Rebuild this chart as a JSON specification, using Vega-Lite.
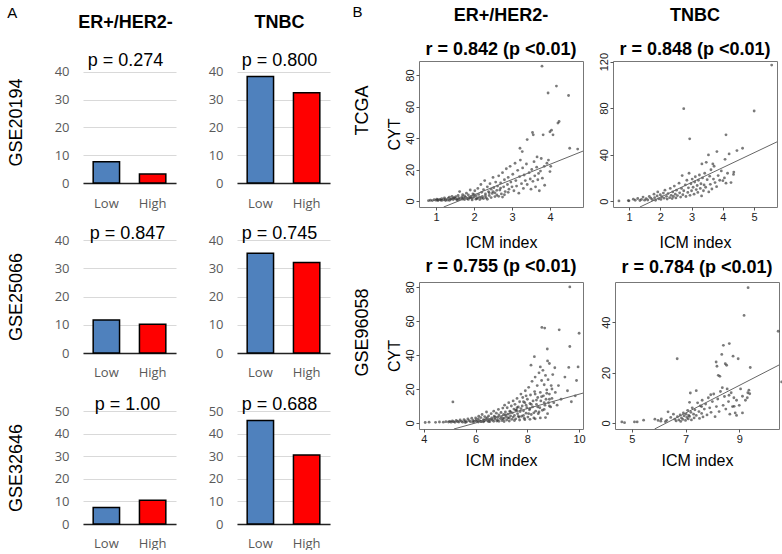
{
 "$schema": "https://vega.github.io/schema/vega-lite/v6.json",
 "padding": {"left": 7, "top": 4, "right": 0, "bottom": 0},
 "config": {"view": {"stroke": null}, "font": "Liberation Sans", "title": {"color": "#000"}, "axis": {"labelFont": "Liberation Sans", "titleFont": "Liberation Sans"}},
 "datasets": {
  "bars": [
   {"panel": "GSE20194", "subtype": "ER", "group": "Low", "value": 7.7},
   {"panel": "GSE20194", "subtype": "ER", "group": "High", "value": 3.2},
   {"panel": "GSE20194", "subtype": "TN", "group": "Low", "value": 38.4},
   {"panel": "GSE20194", "subtype": "TN", "group": "High", "value": 32.5},
   {"panel": "GSE25066", "subtype": "ER", "group": "Low", "value": 11.7},
   {"panel": "GSE25066", "subtype": "ER", "group": "High", "value": 10.2},
   {"panel": "GSE25066", "subtype": "TN", "group": "Low", "value": 35.3},
   {"panel": "GSE25066", "subtype": "TN", "group": "High", "value": 32.0},
   {"panel": "GSE32646", "subtype": "ER", "group": "Low", "value": 7.3},
   {"panel": "GSE32646", "subtype": "ER", "group": "High", "value": 10.5},
   {"panel": "GSE32646", "subtype": "TN", "group": "Low", "value": 45.8},
   {"panel": "GSE32646", "subtype": "TN", "group": "High", "value": 30.5}
  ],
  "lines": [
   {"panel": "tl", "x": 1.2, "y": -3.8}, {"panel": "tl", "x": 4.87, "y": 31.7},
   {"panel": "tr", "x": 1.35, "y": -5}, {"panel": "tr", "x": 5.73, "y": 51},
   {"panel": "bl", "x": 5.16, "y": -3.5}, {"panel": "bl", "x": 10.15, "y": 17.6},
   {"panel": "br", "x": 5.85, "y": -2.4}, {"panel": "br", "x": 10.48, "y": 23}
  ],
  "tl": [
   {"x":0.8,"y":0.2},{"x":0.85,"y":0.5},{"x":0.9,"y":0.3},{"x":0.95,"y":0.8},{"x":1.0,"y":0.5},{"x":1.02,"y":1.2},{"x":1.05,"y":0.3},{"x":1.1,"y":1.0},{"x":1.12,"y":0.6},{"x":1.15,"y":1.5},{"x":1.2,"y":0.8},{"x":1.22,"y":2.0},{"x":1.25,"y":1.1},{"x":1.3,"y":0.6},{"x":1.32,"y":1.8},{"x":1.35,"y":2.5},{"x":1.38,"y":1.0},{"x":1.4,"y":1.4},{"x":1.42,"y":3.0},{"x":1.45,"y":0.9},{"x":1.48,"y":2.2},{"x":1.5,"y":1.6},
   {"x":1.52,"y":2.8},{"x":1.55,"y":1.2},{"x":1.58,"y":3.5},{"x":1.6,"y":2.0},{"x":1.62,"y":6.0},{"x":1.65,"y":1.5},{"x":1.68,"y":2.6},{"x":1.7,"y":4.0},{"x":1.72,"y":1.8},{"x":1.75,"y":3.2},{"x":1.78,"y":2.4},{"x":1.8,"y":5.0},{"x":1.82,"y":1.4},{"x":1.85,"y":3.8},{"x":1.88,"y":2.2},{"x":1.9,"y":7.0},{"x":1.92,"y":3.0},{"x":1.95,"y":1.8},{"x":1.97,"y":4.5},{"x":2.0,"y":2.6},
   {"x":2.02,"y":6.5},{"x":2.05,"y":3.4},{"x":2.07,"y":1.5},{"x":2.1,"y":8.0},{"x":2.12,"y":4.2},{"x":2.15,"y":2.5},{"x":2.18,"y":10.5},{"x":2.2,"y":5.5},{"x":2.22,"y":3.0},{"x":2.25,"y":7.2},{"x":2.28,"y":13.0},{"x":2.3,"y":4.5},{"x":2.32,"y":2.0},{"x":2.35,"y":9.0},{"x":2.38,"y":6.0},{"x":2.4,"y":3.5},{"x":2.42,"y":11.0},{"x":2.45,"y":7.5},{"x":2.48,"y":4.8},{"x":2.5,"y":15.0},
   {"x":2.52,"y":8.5},{"x":2.55,"y":5.2},{"x":2.57,"y":12.0},{"x":2.6,"y":3.8},{"x":2.62,"y":9.5},{"x":2.65,"y":16.0},{"x":2.68,"y":7.0},{"x":2.7,"y":11.5},{"x":2.72,"y":4.5},{"x":2.75,"y":18.0},{"x":2.78,"y":9.0},{"x":2.8,"y":13.5},{"x":2.82,"y":6.0},{"x":2.85,"y":20.5},{"x":2.88,"y":10.5},{"x":2.9,"y":15.0},{"x":2.92,"y":7.5},{"x":2.95,"y":22.0},{"x":2.97,"y":12.0},{"x":3.0,"y":9.0},
   {"x":3.02,"y":17.0},{"x":3.05,"y":6.5},{"x":3.08,"y":24.0},{"x":3.1,"y":13.0},{"x":3.12,"y":9.5},{"x":3.15,"y":19.5},{"x":3.18,"y":5.0},{"x":3.2,"y":15.5},{"x":3.22,"y":26.0},{"x":3.25,"y":11.0},{"x":3.28,"y":21.0},{"x":3.3,"y":8.0},{"x":3.32,"y":16.5},{"x":3.35,"y":13.0},{"x":3.38,"y":23.5},{"x":3.4,"y":10.5},{"x":3.45,"y":18.0},{"x":3.48,"y":14.0},{"x":3.5,"y":7.5},
   {"x":3.52,"y":20.0},{"x":3.55,"y":12.5},{"x":3.58,"y":25.0},{"x":3.6,"y":16.0},{"x":3.62,"y":9.0},{"x":3.65,"y":21.5},{"x":3.68,"y":13.5},{"x":3.7,"y":17.5},{"x":3.72,"y":6.5},{"x":3.75,"y":19.0},{"x":3.8,"y":14.5},{"x":3.85,"y":22.0},
   {"x":1.6,"y":0.8},{"x":1.75,"y":0.9},{"x":1.85,"y":1.0},{"x":1.95,"y":0.7},{"x":2.05,"y":1.2},{"x":2.15,"y":0.9},{"x":2.25,"y":1.6},{"x":2.35,"y":1.1},{"x":2.45,"y":2.2},{"x":2.55,"y":2.8},{"x":2.65,"y":3.0},{"x":2.75,"y":2.5},{"x":2.1,"y":2.0},{"x":2.2,"y":1.8},{"x":2.3,"y":3.2},{"x":2.4,"y":5.2},{"x":2.5,"y":6.0},{"x":2.6,"y":6.8},{"x":2.7,"y":8.2},{"x":2.8,"y":4.0},{"x":2.9,"y":5.5},{"x":1.7,"y":1.2},{"x":1.9,"y":2.0},{"x":2.0,"y":4.0},{"x":1.55,"y":0.6},{"x":1.45,"y":1.8},{"x":1.35,"y":0.4},{"x":1.25,"y":0.3},{"x":1.15,"y":0.4},{"x":1.05,"y":0.8},
   {"x":3.79,"y":85.6},{"x":4.17,"y":73},{"x":3.95,"y":68.6},{"x":4.49,"y":67},{"x":4.24,"y":50.5},{"x":4.21,"y":49.5},{"x":4.04,"y":45},{"x":4.0,"y":44},{"x":3.54,"y":43.5},{"x":3.82,"y":42},{"x":4.08,"y":42},{"x":3.56,"y":42},{"x":3.4,"y":39},{"x":3.21,"y":33.5},{"x":3.27,"y":31.4},{"x":4.52,"y":33.5},{"x":4.73,"y":33},{"x":3.96,"y":26},{"x":3.92,"y":24},{"x":4.02,"y":22},{"x":4.0,"y":18.7},{"x":3.66,"y":28},{"x":3.77,"y":27},{"x":3.86,"y":10}
  ],
  "tr": [
   {"x":0.68,"y":0.2},{"x":0.98,"y":0.5},{"x":1.0,"y":0.3},{"x":1.14,"y":1.7},{"x":1.2,"y":0.8},{"x":1.28,"y":2.3},{"x":1.35,"y":0.6},{"x":1.4,"y":1.5},{"x":1.45,"y":3.5},{"x":1.5,"y":0.9},{"x":1.55,"y":2.2},{"x":1.6,"y":1.0},{"x":1.65,"y":4.0},{"x":1.7,"y":2.5},{"x":1.75,"y":1.2},{"x":1.8,"y":6.0},{"x":1.82,"y":3.0},{"x":1.85,"y":0.8},{"x":1.9,"y":4.5},{"x":1.92,"y":8.0},{"x":1.95,"y":2.0},{"x":2.0,"y":5.5},{"x":2.02,"y":1.5},{"x":2.05,"y":3.8},{"x":2.1,"y":7.0},{"x":2.12,"y":2.6},{"x":2.15,"y":9.5},{"x":2.2,"y":4.2},{"x":2.22,"y":1.8},{"x":2.25,"y":6.5},{"x":2.3,"y":3.0},{"x":2.32,"y":11.0},{"x":2.35,"y":5.0},{"x":2.38,"y":2.2},{"x":2.4,"y":8.0},{"x":2.42,"y":4.0},{"x":2.45,"y":13.0},{"x":2.48,"y":6.0},{"x":2.5,"y":2.8},{"x":2.52,"y":9.5},{"x":2.55,"y":4.8},{"x":2.6,"y":15.5},{"x":2.62,"y":7.2},{"x":2.65,"y":3.5},{"x":2.68,"y":11.0},{"x":2.7,"y":22.0},{"x":2.72,"y":5.5},{"x":2.75,"y":9.0},{"x":2.8,"y":14.0},{"x":2.82,"y":4.0},{"x":2.85,"y":18.0},{"x":2.88,"y":7.5},{"x":2.9,"y":11.5},{"x":2.92,"y":24.0},{"x":2.95,"y":5.0},{"x":2.98,"y":15.0},{"x":3.0,"y":9.0},{"x":3.02,"y":19.0},{"x":3.05,"y":12.0},{"x":3.08,"y":6.0},{"x":3.1,"y":16.5},{"x":3.12,"y":21.0},{"x":3.15,"y":10.0},{"x":3.18,"y":13.5},{"x":3.2,"y":7.5},{"x":3.22,"y":18.0},{"x":3.25,"y":22.5},{"x":3.28,"y":11.0},{"x":3.3,"y":15.0},{"x":3.32,"y":4.5},{"x":3.35,"y":20.0},{"x":3.38,"y":9.0},{"x":3.4,"y":14.0},{"x":3.42,"y":24.0},{"x":3.45,"y":12.0},{"x":3.5,"y":18.5},{"x":3.55,"y":8.0},{"x":3.58,"y":21.5},{"x":3.6,"y":14.5},{"x":3.62,"y":27.0},{"x":3.65,"y":10.5},{"x":3.7,"y":19.0},{"x":3.72,"y":30.0},{"x":3.75,"y":16.0},{"x":3.8,"y":12.5},{"x":3.85,"y":22.0},{"x":3.9,"y":18.0},{"x":3.95,"y":26.0},{"x":4.05,"y":20.0},{"x":4.1,"y":15.5},{"x":4.15,"y":24.0},{"x":4.35,"y":25.0},
   {"x":5.56,"y":117},{"x":5.0,"y":77.5},{"x":2.75,"y":79.5},{"x":2.94,"y":53.6},{"x":4.1,"y":57},{"x":4.63,"y":45.5},{"x":4.45,"y":43.5},{"x":3.81,"y":42.6},{"x":4.2,"y":40.6},{"x":3.54,"y":39.8},{"x":4.34,"y":23},{"x":3.68,"y":32},{"x":3.33,"y":32},{"x":3.47,"y":33.4},{"x":4.07,"y":36},{"x":4.26,"y":16},{"x":4.0,"y":17.6}
  ],
  "bl": [
   {"x":4.05,"y":0.3},{"x":4.2,"y":0.5},{"x":4.45,"y":0.4},{"x":4.6,"y":0.6},{"x":4.75,"y":0.5},{"x":4.85,"y":0.8},{"x":4.95,"y":0.6},{"x":5.0,"y":1.0},
   {"x":5.05,"y":0.5},{"x":5.1,"y":1.2},{"x":5.15,"y":0.8},{"x":5.2,"y":0.4},{"x":5.25,"y":1.5},{"x":5.3,"y":0.9},{"x":5.35,"y":0.6},{"x":5.4,"y":1.8},{"x":5.45,"y":1.0},{"x":5.5,"y":0.5},{"x":5.55,"y":2.0},{"x":5.6,"y":1.2},{"x":5.65,"y":0.7},{"x":5.7,"y":2.4},{"x":5.75,"y":1.4},{"x":5.8,"y":0.8},{"x":5.85,"y":2.8},{"x":5.9,"y":1.6},{"x":5.95,"y":1.0},{"x":6.0,"y":3.0},
   {"x":6.02,"y":1.8},{"x":6.05,"y":0.9},{"x":6.1,"y":2.5},{"x":6.12,"y":4.0},{"x":6.15,"y":1.4},{"x":6.2,"y":3.2},{"x":6.22,"y":0.8},{"x":6.25,"y":5.0},{"x":6.3,"y":2.0},{"x":6.32,"y":1.2},{"x":6.35,"y":3.8},{"x":6.4,"y":2.6},{"x":6.42,"y":6.5},{"x":6.45,"y":1.5},{"x":6.5,"y":4.2},{"x":6.52,"y":2.2},{"x":6.55,"y":0.9},{"x":6.6,"y":5.5},{"x":6.62,"y":3.0},{"x":6.65,"y":1.8},{"x":6.7,"y":7.0},{"x":6.72,"y":4.0},{"x":6.75,"y":2.4},{"x":6.8,"y":5.8},{"x":6.82,"y":1.2},{"x":6.85,"y":3.4},{"x":6.88,"y":8.0},{"x":6.9,"y":4.8},{"x":6.95,"y":2.6},{"x":6.98,"y":6.2},
   {"x":7.0,"y":3.5},{"x":7.02,"y":1.5},{"x":7.05,"y":8.8},{"x":7.08,"y":5.0},{"x":7.1,"y":2.8},{"x":7.12,"y":10.5},{"x":7.15,"y":6.5},{"x":7.18,"y":3.8},{"x":7.2,"y":1.8},{"x":7.22,"y":9.0},{"x":7.25,"y":5.2},{"x":7.28,"y":12.0},{"x":7.3,"y":3.0},{"x":7.32,"y":7.0},{"x":7.35,"y":4.2},{"x":7.38,"y":10.0},{"x":7.4,"y":2.2},{"x":7.42,"y":6.0},{"x":7.45,"y":13.0},{"x":7.48,"y":8.2},
   {"x":7.5,"y":4.5},{"x":7.52,"y":11.0},{"x":7.55,"y":2.5},{"x":7.58,"y":7.5},{"x":7.6,"y":14.5},{"x":7.62,"y":5.5},{"x":7.65,"y":9.5},{"x":7.68,"y":3.5},{"x":7.7,"y":12.5},{"x":7.72,"y":6.8},{"x":7.75,"y":17.0},{"x":7.78,"y":4.0},{"x":7.8,"y":10.0},{"x":7.82,"y":15.0},{"x":7.85,"y":7.2},{"x":7.88,"y":2.8},{"x":7.9,"y":12.0},{"x":7.92,"y":19.0},{"x":7.95,"y":5.8},{"x":7.98,"y":9.0},
   {"x":8.0,"y":14.0},{"x":8.02,"y":3.5},{"x":8.05,"y":21.0},{"x":8.08,"y":7.8},{"x":8.1,"y":11.5},{"x":8.12,"y":16.5},{"x":8.15,"y":5.0},{"x":8.18,"y":24.5},{"x":8.2,"y":9.5},{"x":8.22,"y":13.0},{"x":8.25,"y":3.0},{"x":8.28,"y":18.5},{"x":8.3,"y":27.0},{"x":8.32,"y":7.0},{"x":8.35,"y":11.0},{"x":8.38,"y":22.0},{"x":8.4,"y":15.0},{"x":8.42,"y":5.5},{"x":8.45,"y":29.5},{"x":8.48,"y":9.0},
   {"x":8.5,"y":18.0},{"x":8.52,"y":13.0},{"x":8.55,"y":25.0},{"x":8.58,"y":7.5},{"x":8.6,"y":31.0},{"x":8.62,"y":16.0},{"x":8.65,"y":22.5},{"x":8.68,"y":10.5},{"x":8.7,"y":28.0},{"x":8.72,"y":14.0},{"x":8.75,"y":19.5},{"x":8.78,"y":5.5},{"x":8.8,"y":25.5},{"x":8.82,"y":12.0},{"x":8.85,"y":17.0},{"x":8.9,"y":9.5},{"x":8.92,"y":22.0},{"x":8.95,"y":14.5},{"x":8.98,"y":28.5},
   {"x":9.02,"y":12.0},{"x":9.08,"y":18.0},{"x":9.15,"y":10.5},{"x":9.2,"y":22.0},{"x":9.3,"y":14.0},{"x":9.45,"y":27.0},{"x":9.55,"y":19.0},{"x":9.7,"y":12.5},{"x":9.85,"y":16.0},{"x":9.9,"y":25.0},
   {"x":5.6,"y":0.3},{"x":5.9,"y":0.5},{"x":6.1,"y":0.6},{"x":6.3,"y":0.7},{"x":6.5,"y":0.8},{"x":6.7,"y":1.0},{"x":6.9,"y":1.0},{"x":7.1,"y":0.9},{"x":7.3,"y":1.2},{"x":7.5,"y":1.5},{"x":7.7,"y":1.8},{"x":7.9,"y":2.0},{"x":8.1,"y":2.2},{"x":8.3,"y":2.5},{"x":8.5,"y":3.0},{"x":8.7,"y":3.2},{"x":6.35,"y":1.5},{"x":6.6,"y":2.2},{"x":6.85,"y":1.8},{"x":7.05,"y":2.5},{"x":7.25,"y":3.0},{"x":7.45,"y":3.5},{"x":7.65,"y":4.0},{"x":7.85,"y":4.5},{"x":8.05,"y":5.5},{"x":8.25,"y":6.0},{"x":8.45,"y":6.5},{"x":8.65,"y":8.0},{"x":8.85,"y":10.0},{"x":7.55,"y":7.5},{"x":7.75,"y":8.5},{"x":7.95,"y":10.5},{"x":8.15,"y":11.0},{"x":8.35,"y":13.5},{"x":8.55,"y":15.5},{"x":8.75,"y":17.5},{"x":8.95,"y":20.0},{"x":6.2,"y":1.0},{"x":6.45,"y":3.2},{"x":6.75,"y":3.4},{"x":7.15,"y":4.8},{"x":7.35,"y":6.5},{"x":7.6,"y":9.0},{"x":7.85,"y":12.5},{"x":8.1,"y":8.5},{"x":8.4,"y":9.5},{"x":8.65,"y":12.0},{"x":8.85,"y":14.0},{"x":8.3,"y":17.0},{"x":7.95,"y":16.0},
   {"x":9.64,"y":80},{"x":10.0,"y":52.8},{"x":9.23,"y":54.8},{"x":8.56,"y":56.2},{"x":8.67,"y":55.8},{"x":9.64,"y":45},{"x":8.77,"y":43.5},{"x":8.27,"y":39},{"x":8.78,"y":36.5},{"x":8.85,"y":35},{"x":8.5,"y":33},{"x":9.06,"y":32.5},{"x":9.96,"y":33},{"x":9.6,"y":32.7},{"x":8.14,"y":34},{"x":5.12,"y":12.4}
  ],
  "br": [
   {"x":4.63,"y":0.4},{"x":4.73,"y":0.1},{"x":5.1,"y":0.4},{"x":5.2,"y":0.4},{"x":5.44,"y":1.1},{"x":5.86,"y":1.5},{"x":5.98,"y":1.0},{"x":6.08,"y":0.7},{"x":6.35,"y":4.4},{"x":6.69,"y":25.5},{"x":7.18,"y":11.9},{"x":7.94,"y":11.2},{"x":8.14,"y":24.2},{"x":8.17,"y":22.5},{"x":8.41,"y":30.8},{"x":8.63,"y":31.5},{"x":8.35,"y":27.2},{"x":8.48,"y":23.5},{"x":8.53,"y":22.9},{"x":8.77,"y":26.5},{"x":8.96,"y":25.5},{"x":9.18,"y":42.7},{"x":9.33,"y":53.7},{"x":10.45,"y":36.4},{"x":10.58,"y":16.3},{"x":9.41,"y":22},{"x":9.36,"y":13},{"x":9.12,"y":10.6},{"x":9.23,"y":9.0},{"x":9.39,"y":11.6},{"x":9.12,"y":4.0},{"x":8.9,"y":9},{"x":8.81,"y":6.6},{"x":8.9,"y":3},{"x":8.37,"y":14},{"x":8.22,"y":18.9},{"x":8.28,"y":18.5},
   {"x":6.6,"y":1.5},{"x":6.65,"y":0.8},{"x":6.7,"y":2.5},{"x":6.75,"y":1.2},{"x":6.8,"y":3.2},{"x":6.82,"y":0.6},{"x":6.85,"y":2.0},{"x":6.9,"y":1.4},{"x":6.92,"y":4.0},{"x":6.95,"y":2.8},{"x":7.0,"y":1.0},{"x":7.02,"y":3.5},{"x":7.05,"y":2.2},{"x":7.08,"y":5.0},{"x":7.1,"y":1.6},{"x":7.12,"y":3.0},{"x":7.15,"y":2.6},{"x":7.2,"y":4.2},{"x":7.22,"y":1.2},{"x":7.25,"y":6.0},{"x":7.3,"y":3.5},{"x":7.32,"y":2.0},{"x":7.35,"y":5.2},{"x":7.4,"y":3.0},{"x":7.45,"y":8.0},{"x":7.5,"y":4.5},{"x":7.52,"y":1.8},{"x":7.55,"y":6.8},{"x":7.6,"y":3.8},{"x":7.62,"y":9.0},{"x":7.65,"y":2.4},{"x":7.7,"y":5.5},{"x":7.75,"y":7.5},{"x":7.8,"y":3.2},{"x":7.85,"y":10.0},{"x":7.9,"y":6.0},{"x":7.95,"y":4.2},{"x":8.0,"y":8.5},{"x":8.05,"y":11.5},{"x":8.1,"y":2.5},{"x":8.15,"y":6.5},{"x":8.2,"y":9.5},{"x":8.25,"y":4.5},{"x":8.3,"y":12.5},{"x":8.4,"y":7.0},{"x":8.45,"y":10.5},{"x":8.5,"y":5.5},{"x":8.55,"y":13.5},{"x":8.6,"y":8.5},{"x":8.62,"y":11.0},{"x":8.65,"y":3.5},{"x":8.7,"y":12.0},{"x":8.75,"y":6.5},{"x":8.8,"y":10.0},{"x":8.85,"y":4.0},{"x":9.0,"y":7.0},{"x":9.05,"y":13.5},{"x":9.3,"y":10.0},{"x":9.32,"y":12.0},{"x":6.45,"y":2.2},{"x":6.3,"y":1.0},{"x":6.1,"y":1.6},{"x":6.25,"y":0.5},{"x":6.55,"y":3.5},{"x":7.4,"y":12.8},{"x":7.6,"y":6.5},{"x":7.15,"y":8.2}
  ]
 },
 "spacing": 22,
 "hconcat": [
  {
   "title": {"text": "A", "anchor": "start", "fontSize": 15, "fontWeight": "normal", "offset": -7},
   "spacing": 15,
   "vconcat": [
    {
     "spacing": 32,
     "hconcat": [
      {
       "width": 93, "height": 122,
       "title": {"text": "ER+/HER2-", "subtitle": "p = 0.274", "fontSize": 18, "fontWeight": "bold", "subtitleFont": "Liberation Sans", "subtitleFontSize": 18, "subtitleColor": "#000", "subtitlePadding": 20, "offset": -9, "dx": -4},
       "data": {"name": "bars"},
       "transform": [{"filter": "datum.panel === 'GSE20194' && datum.subtype === 'ER'"}],
       "mark": {"type": "bar", "stroke": "#000", "strokeWidth": 1.5},
       "encoding": {
        "x": {"field": "group", "type": "nominal", "sort": ["Low", "High"], "scale": {"paddingInner": 0.43, "paddingOuter": 0.22}, "axis": {"title": null, "labelAngle": 0, "ticks": false, "domainColor": "#222", "domainWidth": 1.5, "labelFont": "Open Sans", "labelFontSize": 13, "labelColor": "#595959", "labelPadding": 14}},
        "y": {"field": "value", "type": "quantitative", "scale": {"domain": [0, 43.96], "nice": false}, "axis": {"title": "GSE20194", "titleFontSize": 18, "titleFontWeight": "normal", "titleColor": "#000", "titlePadding": 29, "values": [0, 10, 20, 30, 40], "grid": true, "gridColor": "#d9d9d9", "domain": false, "ticks": false, "labelPadding": 14, "labelFont": "Open Sans", "labelFontSize": 13, "labelColor": "#595959"}},
        "color": {"field": "group", "type": "nominal", "scale": {"domain": ["Low", "High"], "range": ["#4F81BD", "#FF0000"]}, "legend": null}
       }
      },
      {
       "width": 93, "height": 122,
       "title": {"text": "TNBC", "subtitle": "p = 0.800", "fontSize": 18, "fontWeight": "bold", "subtitleFont": "Liberation Sans", "subtitleFontSize": 18, "subtitleColor": "#000", "subtitlePadding": 20, "offset": -9, "dx": -4},
       "data": {"name": "bars"},
       "transform": [{"filter": "datum.panel === 'GSE20194' && datum.subtype === 'TN'"}],
       "mark": {"type": "bar", "stroke": "#000", "strokeWidth": 1.5},
       "encoding": {
        "x": {"field": "group", "type": "nominal", "sort": ["Low", "High"], "scale": {"paddingInner": 0.43, "paddingOuter": 0.22}, "axis": {"title": null, "labelAngle": 0, "ticks": false, "domainColor": "#222", "domainWidth": 1.5, "labelFont": "Open Sans", "labelFontSize": 13, "labelColor": "#595959", "labelPadding": 14}},
        "y": {"field": "value", "type": "quantitative", "scale": {"domain": [0, 43.96], "nice": false}, "axis": {"title": null, "values": [0, 10, 20, 30, 40], "grid": true, "gridColor": "#d9d9d9", "domain": false, "ticks": false, "labelPadding": 14, "labelFont": "Open Sans", "labelFontSize": 13, "labelColor": "#595959"}},
        "color": {"field": "group", "type": "nominal", "scale": {"domain": ["Low", "High"], "range": ["#4F81BD", "#FF0000"]}, "legend": null}
       }
      }
     ]
    },
    {
     "spacing": 17,
     "vconcat": [
      {
       "spacing": 32,
       "hconcat": [
        {
         "width": 93, "height": 113,
         "title": {"text": "p = 0.847", "fontSize": 18, "fontWeight": "normal", "offset": -9, "dx": -2},
         "data": {"name": "bars"},
         "transform": [{"filter": "datum.panel === 'GSE25066' && datum.subtype === 'ER'"}],
         "mark": {"type": "bar", "stroke": "#000", "strokeWidth": 1.5},
         "encoding": {
          "x": {"field": "group", "type": "nominal", "sort": ["Low", "High"], "scale": {"paddingInner": 0.43, "paddingOuter": 0.22}, "axis": {"title": null, "labelAngle": 0, "ticks": false, "domainColor": "#222", "domainWidth": 1.5, "labelFont": "Open Sans", "labelFontSize": 13, "labelColor": "#595959", "labelPadding": 13}},
          "y": {"field": "value", "type": "quantitative", "scale": {"domain": [0, 40], "nice": false}, "axis": {"title": "GSE25066", "titleFontSize": 18, "titleFontWeight": "normal", "titleColor": "#000", "titlePadding": 29, "values": [0, 10, 20, 30, 40], "grid": true, "gridColor": "#d9d9d9", "domain": false, "ticks": false, "labelPadding": 14, "labelFont": "Open Sans", "labelFontSize": 13, "labelColor": "#595959"}},
          "color": {"field": "group", "type": "nominal", "scale": {"domain": ["Low", "High"], "range": ["#4F81BD", "#FF0000"]}, "legend": null}
         }
        },
        {
         "width": 93, "height": 113,
         "title": {"text": "p = 0.745", "fontSize": 18, "fontWeight": "normal", "offset": -9, "dx": -4},
         "data": {"name": "bars"},
         "transform": [{"filter": "datum.panel === 'GSE25066' && datum.subtype === 'TN'"}],
         "mark": {"type": "bar", "stroke": "#000", "strokeWidth": 1.5},
         "encoding": {
          "x": {"field": "group", "type": "nominal", "sort": ["Low", "High"], "scale": {"paddingInner": 0.43, "paddingOuter": 0.22}, "axis": {"title": null, "labelAngle": 0, "ticks": false, "domainColor": "#222", "domainWidth": 1.5, "labelFont": "Open Sans", "labelFontSize": 13, "labelColor": "#595959", "labelPadding": 13}},
          "y": {"field": "value", "type": "quantitative", "scale": {"domain": [0, 40], "nice": false}, "axis": {"title": null, "values": [0, 10, 20, 30, 40], "grid": true, "gridColor": "#d9d9d9", "domain": false, "ticks": false, "labelPadding": 14, "labelFont": "Open Sans", "labelFontSize": 13, "labelColor": "#595959"}},
          "color": {"field": "group", "type": "nominal", "scale": {"domain": ["Low", "High"], "range": ["#4F81BD", "#FF0000"]}, "legend": null}
         }
        }
       ]
      },
      {
       "spacing": 32,
       "hconcat": [
        {
         "width": 93, "height": 113,
         "title": {"text": "p = 1.00", "fontSize": 18, "fontWeight": "normal", "offset": -9, "dx": -2},
         "data": {"name": "bars"},
         "transform": [{"filter": "datum.panel === 'GSE32646' && datum.subtype === 'ER'"}],
         "mark": {"type": "bar", "stroke": "#000", "strokeWidth": 1.5},
         "encoding": {
          "x": {"field": "group", "type": "nominal", "sort": ["Low", "High"], "scale": {"paddingInner": 0.43, "paddingOuter": 0.22}, "axis": {"title": null, "labelAngle": 0, "ticks": false, "domainColor": "#222", "domainWidth": 1.5, "labelFont": "Open Sans", "labelFontSize": 13, "labelColor": "#595959", "labelPadding": 13}},
          "y": {"field": "value", "type": "quantitative", "scale": {"domain": [0, 50], "nice": false}, "axis": {"title": "GSE32646", "titleFontSize": 18, "titleFontWeight": "normal", "titleColor": "#000", "titlePadding": 29, "values": [0, 10, 20, 30, 40, 50], "grid": true, "gridColor": "#d9d9d9", "domain": false, "ticks": false, "labelPadding": 14, "labelFont": "Open Sans", "labelFontSize": 13, "labelColor": "#595959"}},
          "color": {"field": "group", "type": "nominal", "scale": {"domain": ["Low", "High"], "range": ["#4F81BD", "#FF0000"]}, "legend": null}
         }
        },
        {
         "width": 93, "height": 113,
         "title": {"text": "p = 0.688", "fontSize": 18, "fontWeight": "normal", "offset": -9, "dx": -4},
         "data": {"name": "bars"},
         "transform": [{"filter": "datum.panel === 'GSE32646' && datum.subtype === 'TN'"}],
         "mark": {"type": "bar", "stroke": "#000", "strokeWidth": 1.5},
         "encoding": {
          "x": {"field": "group", "type": "nominal", "sort": ["Low", "High"], "scale": {"paddingInner": 0.43, "paddingOuter": 0.22}, "axis": {"title": null, "labelAngle": 0, "ticks": false, "domainColor": "#222", "domainWidth": 1.5, "labelFont": "Open Sans", "labelFontSize": 13, "labelColor": "#595959", "labelPadding": 13}},
          "y": {"field": "value", "type": "quantitative", "scale": {"domain": [0, 50], "nice": false}, "axis": {"title": null, "values": [0, 10, 20, 30, 40, 50], "grid": true, "gridColor": "#d9d9d9", "domain": false, "ticks": false, "labelPadding": 14, "labelFont": "Open Sans", "labelFontSize": 13, "labelColor": "#595959"}},
          "color": {"field": "group", "type": "nominal", "scale": {"domain": ["Low", "High"], "range": ["#4F81BD", "#FF0000"]}, "legend": null}
         }
        }
       ]
      }
     ]
    }
   ]
  },
  {
   "title": {"text": "B", "anchor": "start", "fontSize": 15, "fontWeight": "normal", "offset": -13},
   "spacing": 6,
   "vconcat": [
    {
     "spacing": 13,
     "hconcat": [
      {
       "width": 164, "height": 146,
       "view": {"stroke": "#777"},
       "title": {"text": "ER+/HER2-", "subtitle": "r = 0.842 (p <0.01)", "fontSize": 18, "fontWeight": "bold", "subtitleFont": "Liberation Sans", "subtitleFontSize": 18, "subtitleFontWeight": "bold", "subtitleColor": "#000", "subtitlePadding": 16, "offset": 2},
       "resolve": {"scale": {"y": "independent"}},
       "layer": [
        {"data": {"name": "tl"}, "mark": {"type": "circle", "size": 8, "color": "#333", "opacity": 0.65},
         "encoding": {
          "x": {"field": "x", "type": "quantitative", "scale": {"domain": [0.55, 4.87], "nice": false, "zero": false}, "axis": {"title": "ICM index", "titleFontSize": 16, "titleFontWeight": "normal", "titleColor": "#000", "titlePadding": 12, "values": [1, 2, 3, 4], "domain": false, "tickColor": "#555", "tickSize": 3, "labelFontSize": 11, "labelColor": "#222", "labelPadding": 1, "labelFlush": false, "labelOverlap": false, "grid": false}},
          "y": {"field": "y", "type": "quantitative", "scale": {"domain": [-3.8, 88.9], "nice": false, "zero": false}, "axis": {"title": "CYT", "titleFontSize": 16, "titleFontWeight": "normal", "titleColor": "#000", "titlePadding": 2, "values": [0, 20, 40, 60, 80], "domain": false, "tickColor": "#555", "tickSize": 3, "labelAngle": 270, "labelAlign": "center", "labelBaseline": "bottom", "labelFontSize": 11, "labelColor": "#222", "labelPadding": 1, "labelFlush": false, "labelOverlap": false, "grid": false}}
         }},
        {"data": {"name": "lines"}, "transform": [{"filter": "datum.panel === 'tl'"}], "mark": {"type": "line", "color": "#666", "strokeWidth": 1, "clip": true},
         "encoding": {"x": {"field": "x", "type": "quantitative", "scale": {"domain": [0.55, 4.87], "nice": false, "zero": false}},
          "y": {"field": "y", "type": "quantitative", "scale": {"domain": [-3.8, 88.9], "nice": false, "zero": false}, "axis": {"orient": "left", "offset": 48, "title": "TCGA", "titleFontSize": 18, "titleFontWeight": "normal", "titleColor": "#000", "titlePadding": 0, "titleAlign": "center", "titleY": 49, "labels": false, "ticks": false, "domain": false, "grid": false}}}}
       ]
      },
      {
       "width": 164, "height": 146,
       "view": {"stroke": "#777"},
       "title": {"text": "TNBC", "subtitle": "r = 0.848 (p <0.01)", "fontSize": 18, "fontWeight": "bold", "subtitleFont": "Liberation Sans", "subtitleFontSize": 18, "subtitleFontWeight": "bold", "subtitleColor": "#000", "subtitlePadding": 16, "offset": -7},
       "layer": [
        {"data": {"name": "tr"}, "mark": {"type": "circle", "size": 8, "color": "#333", "opacity": 0.65},
         "encoding": {
          "x": {"field": "x", "type": "quantitative", "scale": {"domain": [0.49, 5.73], "nice": false, "zero": false}, "axis": {"title": "ICM index", "titleFontSize": 16, "titleFontWeight": "normal", "titleColor": "#000", "titlePadding": 12, "values": [1, 2, 3, 4, 5], "domain": false, "tickColor": "#555", "tickSize": 3, "labelFontSize": 11, "labelColor": "#222", "labelPadding": 1, "labelFlush": false, "labelOverlap": false, "grid": false}},
          "y": {"field": "y", "type": "quantitative", "scale": {"domain": [-5, 120.5], "nice": false, "zero": false}, "axis": {"title": null, "values": [0, 20, 40, 60, 80, 100, 120], "domain": false, "tickColor": "#555", "tickSize": 3, "labelAngle": 270, "labelAlign": "center", "labelBaseline": "bottom", "labelFontSize": 11, "labelColor": "#222", "labelPadding": 1, "labelFlush": false, "labelOverlap": false, "grid": false}}
         }},
        {"data": {"name": "lines"}, "transform": [{"filter": "datum.panel === 'tr'"}], "mark": {"type": "line", "color": "#666", "strokeWidth": 1, "clip": true},
         "encoding": {"x": {"field": "x", "type": "quantitative"}, "y": {"field": "y", "type": "quantitative"}}}
       ]
      }
     ]
    },
    {
     "spacing": 13,
     "hconcat": [
      {
       "width": 164, "height": 147,
       "view": {"stroke": "#777"},
       "title": {"text": "r = 0.755 (p <0.01)", "fontSize": 18, "fontWeight": "bold", "offset": 5},
       "resolve": {"scale": {"y": "independent"}},
       "layer": [
        {"data": {"name": "bl"}, "mark": {"type": "circle", "size": 8, "color": "#333", "opacity": 0.65},
         "encoding": {
          "x": {"field": "x", "type": "quantitative", "scale": {"domain": [3.81, 10.15], "nice": false, "zero": false}, "axis": {"title": "ICM index", "titleFontSize": 16, "titleFontWeight": "normal", "titleColor": "#000", "titlePadding": 8, "values": [4, 5, 6, 7, 8, 9, 10], "domain": false, "tickColor": "#555", "tickSize": 3, "labelFontSize": 11, "labelColor": "#222", "labelPadding": 1, "labelFlush": false, "labelOverlap": false, "grid": false}},
          "y": {"field": "y", "type": "quantitative", "scale": {"domain": [-3.5, 82.9], "nice": false, "zero": false}, "axis": {"title": "CYT", "titleFontSize": 16, "titleFontWeight": "normal", "titleColor": "#000", "titlePadding": 2, "values": [0, 20, 40, 60, 80], "domain": false, "tickColor": "#555", "tickSize": 3, "labelAngle": 270, "labelAlign": "center", "labelBaseline": "bottom", "labelFontSize": 11, "labelColor": "#222", "labelPadding": 1, "labelFlush": false, "labelOverlap": false, "grid": false}}
         }},
        {"data": {"name": "lines"}, "transform": [{"filter": "datum.panel === 'bl'"}], "mark": {"type": "line", "color": "#666", "strokeWidth": 1, "clip": true},
         "encoding": {"x": {"field": "x", "type": "quantitative", "scale": {"domain": [3.81, 10.15], "nice": false, "zero": false}},
          "y": {"field": "y", "type": "quantitative", "scale": {"domain": [-3.5, 82.9], "nice": false, "zero": false}, "axis": {"orient": "left", "offset": 48, "title": "GSE96058", "titleFontSize": 18, "titleFontWeight": "normal", "titleColor": "#000", "titlePadding": 0, "titleAlign": "center", "titleY": 50, "labels": false, "ticks": false, "domain": false, "grid": false}}}}
       ]
      },
      {
       "width": 164, "height": 147,
       "view": {"stroke": "#777"},
       "title": {"text": "r = 0.784 (p <0.01)", "fontSize": 18, "fontWeight": "bold", "offset": 5},
       "layer": [
        {"data": {"name": "br"}, "mark": {"type": "circle", "size": 8, "color": "#333", "opacity": 0.65},
         "encoding": {
          "x": {"field": "x", "type": "quantitative", "scale": {"domain": [4.375, 10.48], "nice": false, "zero": false}, "axis": {"title": "ICM index", "titleFontSize": 16, "titleFontWeight": "normal", "titleColor": "#000", "titlePadding": 8, "values": [5, 6, 7, 8, 9, 10], "domain": false, "tickColor": "#555", "tickSize": 3, "labelFontSize": 11, "labelColor": "#222", "labelPadding": 1, "labelFlush": false, "labelOverlap": false, "grid": false}},
          "y": {"field": "y", "type": "quantitative", "scale": {"domain": [-2.4, 55.95], "nice": false, "zero": false}, "axis": {"title": null, "values": [0, 10, 20, 30, 40, 50], "domain": false, "tickColor": "#555", "tickSize": 3, "labelAngle": 270, "labelAlign": "center", "labelBaseline": "bottom", "labelFontSize": 11, "labelColor": "#222", "labelPadding": 1, "labelFlush": false, "labelOverlap": false, "grid": false}}
         }},
        {"data": {"name": "lines"}, "transform": [{"filter": "datum.panel === 'br'"}], "mark": {"type": "line", "color": "#666", "strokeWidth": 1, "clip": true},
         "encoding": {"x": {"field": "x", "type": "quantitative"}, "y": {"field": "y", "type": "quantitative"}}}
       ]
      }
     ]
    }
   ]
  }
 ]
}
